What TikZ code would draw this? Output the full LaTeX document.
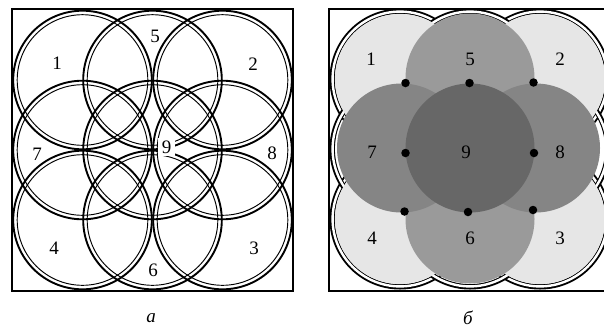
\documentclass[tikz,border=0pt]{standalone}
\usepackage{fontspec}
\setmainfont{Liberation Serif}
\definecolor{lightdisk}{HTML}{E6E6E6}
\definecolor{sidedisk}{HTML}{9A9A9A}
\definecolor{middisk}{HTML}{858585}
\definecolor{centerdisk}{HTML}{676767}
\begin{document}
\begin{tikzpicture}[x=1pt,y=-1pt,
  lbl/.style={font=\fontsize{19}{20}\selectfont, inner sep=0pt},
  caption/.style={font=\fontsize{19}{20}\selectfont\itshape, inner sep=0pt},
  frame/.style={draw=black, line width=1.6pt},
  ringouter/.style={draw=black, line width=1.9pt},
  ringinner/.style={draw=black, line width=0.95pt},
  ringband/.style={draw=black, line width=5.4pt},
  ringgap/.style={draw=white, line width=2.4pt},
  dotmark/.style={circle, fill=black, inner sep=0pt, minimum size=8.5pt}]
\useasboundingbox (0,0) rectangle (604,327);

% ---------------- panel a ----------------
\draw[frame, fill=white] (12,9) rectangle (293,291);
\foreach \cx in {82.5,152.5,222.5}{
  \foreach \cy in {80,150,220}{
    \draw[ringouter] (\cx,\cy) circle[radius=69.3pt];
    \draw[ringinner] (\cx,\cy) circle[radius=65.3pt];
  }
}
\node[lbl] (a1) at (57,63) {1};
\node[lbl] (a5) at (155,36) {5};
\node[lbl] (a2) at (253,64) {2};
\node[lbl] (a7) at (37,154) {7};
\node[lbl] (a8) at (272,153) {8};
\node[lbl] (a4) at (54,248) {4};
\node[lbl] (a6) at (153,270) {6};
\node[lbl] (a3) at (254,248) {3};
\node[lbl, fill=white, inner xsep=4pt, inner ysep=3pt] (a9) at (166.5,147) {9};
\node[caption] (capa) at (151,318) {а};

% ---------------- panel b ----------------
\draw[frame, fill=white] (329,9) rectangle (611,291);
% corner rings, then side rings
\foreach \cx/\cy in {400/79,540/79,400/219,540/219,470/79,470/219,400/149,540/149}{
  \draw[ringband] (\cx,\cy) circle[radius=67.8pt];
  \draw[ringgap] (\cx,\cy) circle[radius=67.4pt];
}
% light corner disks
\foreach \cx/\cy in {400/79,540/79,400/219,540/219}{
  \fill[lightdisk] (\cx,\cy) circle[radius=65.1pt];
}
% side disks
\fill[sidedisk] (470,78) circle[radius=64.5pt];
\fill[sidedisk] (470,219) circle[radius=64.5pt];
\fill[middisk] (401.5,148) circle[radius=64.5pt];
\fill[middisk] (535.5,148) circle[radius=64.5pt];
\fill[centerdisk] (470,148) circle[radius=64.5pt];

\node[dotmark] (d1) at (405.5,83) {};
\node[dotmark] (d2) at (469.5,83) {};
\node[dotmark] (d3) at (533.5,82.5) {};
\node[dotmark] (d4) at (405.5,153) {};
\node[dotmark] (d5) at (534,153) {};
\node[dotmark] (d6) at (404.5,211.5) {};
\node[dotmark] (d7) at (468,212) {};
\node[dotmark] (d8) at (533,210) {};

\node[lbl] (b1) at (371,59) {1};
\node[lbl] (b5) at (470,59) {5};
\node[lbl] (b2) at (560,59) {2};
\node[lbl] (b7) at (372,152) {7};
\node[lbl] (b9) at (466,152) {9};
\node[lbl] (b8) at (560,152) {8};
\node[lbl] (b4) at (372,238) {4};
\node[lbl] (b6) at (470,238) {6};
\node[lbl] (b3) at (560,238) {3};
\node[caption] (capb) at (468,317.5) {б};
\end{tikzpicture}
\end{document}
